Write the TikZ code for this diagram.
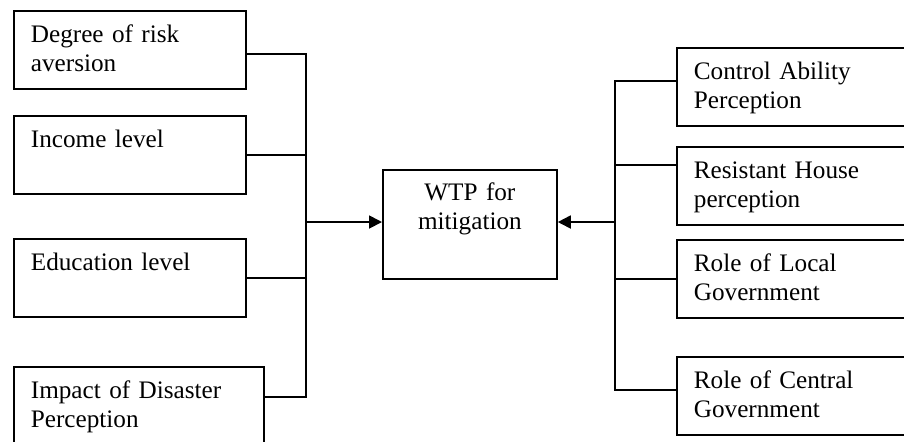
\documentclass[tikz,border=0pt]{standalone}
\usepackage{fontspec}
\setmainfont{Liberation Serif}
\usepackage{tikz}
\usetikzlibrary{arrows.meta, positioning}

\tikzset{
    factor/.style={draw, line width=0.9pt, anchor=north west, inner xsep=8.5pt, inner ysep=0pt,
        text width=99pt, align=left, text height=16pt, text depth=23pt,
        font=\fontsize{12.6}{14.5}\selectfont},
    target/.style={draw, line width=0.9pt, anchor=north west, inner sep=0pt,
        text width=87pt, align=center, text height=15.5pt, text depth=39pt,
        font=\fontsize{12.6}{14.5}\selectfont},
    link/.style={line width=0.9pt},
    arrow/.style={line width=0.9pt, -{Triangle[length=6.5pt,width=6.5pt]}}
}

\begin{document}
\begin{tikzpicture}[x=0.5pt, y=-0.5pt]
    % Frame
    \path[use as bounding box, clip] (0,0) rectangle (904,441);

    % Left factors
    \node[factor] (risk) at (13,10) {Degree of risk\\aversion};
    \node[factor] (income) at (13,115) {Income level};
    \node[factor] (edu) at (13,238) {Education level};
    \node[factor, text width=108pt] (impact) at (13,366) {Impact of Disaster\\Perception};

    % Centre
    \node[target] (wtp) at (382,169) {WTP for\\mitigation};

    % Right factors
    \node[factor] (control) at (676,47) {Control Ability\\Perception};
    \node[factor] (house) at (676,146) {Resistant House\\perception};
    \node[factor] (local) at (676,239) {Role of Local\\Government};
    \node[factor] (central) at (676,356) {Role of Central\\Government};

    % Buses
    \coordinate (lbus) at (306,222);
    \coordinate (rbus) at (615,222);

    % Left connectors
    \draw[link] ([yshift=-2pt]risk.east) -| (lbus);
    \draw[link] (income.east) -| (lbus);
    \draw[link] (edu.east) -| (lbus);
    \draw[link] ([yshift=-15.5pt]impact.north east) -| (lbus);
    \draw[arrow] (lbus) -- (wtp.west |- lbus);

    % Right connectors
    \draw[link] ([yshift=-17pt]control.north west) -| (rbus);
    \draw[link] ([yshift=-9.5pt]house.north west) -| (rbus);
    \draw[link] (local.west) -| (rbus);
    \draw[link] ([yshift=-17pt]central.north west) -| (rbus);
    \draw[arrow] (rbus) -- (wtp.east |- rbus);
\end{tikzpicture}
\end{document}
